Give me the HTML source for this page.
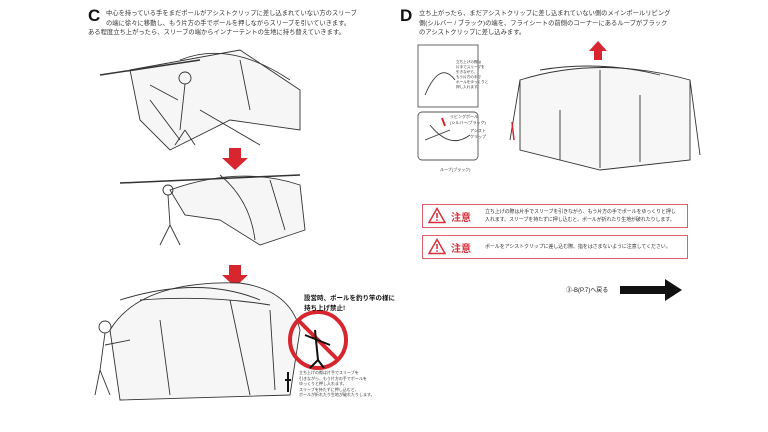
<!DOCTYPE html>
<html><head><meta charset="utf-8"><style>
body{margin:0;width:768px;height:432px;background:#fff;overflow:hidden;position:relative;font-family:"Liberation Sans","Noto Sans CJK JP",sans-serif;color:#333}
.t{position:absolute;font-size:6.3px;line-height:9.5px;white-space:nowrap}
.L{position:absolute;font-weight:900;font-size:17px;font-family:"Liberation Sans",sans-serif;color:#111}
.c{position:absolute;border:1.5px solid #e0606a;background:#fff}
.c svg{position:absolute;left:5px;top:2px}
.c .z{position:absolute;left:28px;font-size:10px;font-weight:bold;color:#d8303a}
.c .m{position:absolute;left:62px;font-size:5px;line-height:8px;white-space:nowrap;letter-spacing:-0.1px}
</style></head><body>
<div class="L" style="left:88px;top:6px">C</div>
<div class="t" style="left:106px;top:9px">中心を持っている手をまだポールがアシストクリップに差し込まれていない方のスリーブ<br>の端に徐々に移動し、もう片方の手でポールを押しながらスリーブを引いていきます。</div>
<div class="t" style="left:88px;top:28px">ある程度立ち上がったら、スリーブの端からインナーテントの生地に持ち替えていきます。</div>
<div class="L" style="left:400px;top:6px">D</div>
<div class="t" style="left:419px;top:9px">立ち上がったら、まだアシストクリップに差し込まれていない側のメインポールリビング<br>側(シルバー / ブラック)の端を、フライシートの前側のコーナーにあるループがブラック<br>のアシストクリップに差し込みます。</div>
<svg width="768" height="432" style="position:absolute;left:0;top:0" fill="none" stroke="#333" stroke-width="0.9">
<path d="M130 70 L240 50 L300 90 L300 130 L230 120 L170 150 L140 120Z" fill="#f6f6f6"/>
<path d="M180 60 Q230 40 290 80 M200 110 L260 145 M150 100 L180 140 M240 60 L250 110"/>
<path d="M100 75 L200 60" stroke-width="1.5"/>
<circle cx="185" cy="78" r="6"/><path d="M185 84 L180 130 M178 100 L150 85 M185 130 L175 145 M185 130 L195 145"/>
<path d="M229 148 h12 v10 h7 l-13 12 l-13 -12 h7z" fill="#d8262f" stroke="none"/>
<path d="M170 190 Q240 165 300 185 L305 230 L260 245 L220 220 L185 215Z" fill="#f6f6f6"/>
<path d="M120 183 L300 175" stroke-width="1.5"/><path d="M220 175 Q250 200 255 240 M270 180 L285 230"/>
<circle cx="168" cy="190" r="5"/><path d="M168 195 L170 225 L160 245 M170 225 L180 245"/>
<path d="M229 265 h12 v10 h7 l-13 12 l-13 -12 h7z" fill="#d8262f" stroke="none"/>
<path d="M110 330 Q140 280 240 283 Q290 290 300 330 L290 395 L120 400Z" fill="#f6f6f6"/>
<path d="M120 300 Q200 275 260 300 M160 320 L170 395 M230 300 L250 395 M270 310 L275 390 M140 300 Q210 295 270 305"/>
<circle cx="105" cy="327" r="6"/><path d="M105 333 L100 370 L95 395 M100 370 L110 395 M105 345 L130 340"/>
<circle cx="318" cy="340" r="28" stroke="#d8262f" stroke-width="4"/>
<path d="M298 320 L338 360" stroke="#d8262f" stroke-width="4"/>
<path d="M305 335 L330 345 M315 330 L318 360 L310 368 M318 360 L324 368" stroke="#111" stroke-width="2"/>
<path d="M288 372 v20 M285 380 h6" stroke="#111" stroke-width="2"/>
<rect x="418" y="45" width="60" height="62" stroke="#555"/>
<rect x="418" y="112" width="60" height="48" rx="4" stroke="#555"/>
<path d="M425 95 Q440 60 455 80 M430 125 Q450 150 470 135 M425 140 L450 130" />
<path d="M442 118 l3 8" stroke="#d8262f" stroke-width="2"/>
<path d="M520 80 Q600 55 690 80 L690 160 L600 170 L520 150Z" fill="#f7f7f7"/>
<path d="M540 70 Q600 60 660 75 M560 110 L560 160 M600 70 L600 168 M640 95 L640 162 M520 80 L510 140 M690 80 L700 155"/>
<path d="M594 60 v-9 h-5 l9 -10 l9 10 h-5 v9z" fill="#d8262f" stroke="none"/>
<path d="M514 140 l-2 -18" stroke="#d8262f" stroke-width="1.5"/>
<path d="M620 286 h45 v-7 l17 11 l-17 11 v-7 h-45z" fill="#111" stroke="none"/>
</svg>
<div class="t" style="left:304px;top:294px;font-size:6.5px;font-weight:bold;color:#111;line-height:10px">設営時、ポールを釣り竿の様に<br>持ち上げ禁止!</div>
<div class="t" style="left:299px;top:370px;font-size:4px;line-height:5.5px">立ち上げの際は片手でスリーブを<br>引きながら、もう片方の手でポールを<br>ゆっくりと押し入れます。<br>スリーブを持たずに押し込むと、<br>ポールが折れたり生地が破れたりします。</div>
<div class="t" style="left:456px;top:60px;font-size:3.6px;line-height:5px">立ち上げの際は<br>片手でスリーブを<br>引きながら、<br>もう片方の手で<br>ポールをゆっくりと<br>押し入れます。</div>
<div class="t" style="left:450px;top:114px;font-size:4px;line-height:5.5px">リビングポール<br>(シルバー/ブラック)</div>
<div class="t" style="left:470px;top:128px;font-size:4px;line-height:5.5px">アシスト<br>クリップ</div>
<div class="t" style="left:440px;top:165px;font-size:4px">ループ(ブラック)</div>
<div class="c" style="left:422px;top:204px;width:264px;height:22px"><svg width="18" height="17"><path d="M9 1.5 L17 15.5 H1Z" fill="none" stroke="#d8303a" stroke-width="1.5"/><path d="M9 6 v5" stroke="#d8303a" stroke-width="1.6"/><circle cx="9" cy="13" r="0.9" fill="#d8303a"/></svg><span class="z" style="top:4px">注意</span><span class="m" style="top:3px">立ち上げの際は片手でスリーブを引きながら、もう片方の手でポールをゆっくりと押し<br>入れます。スリーブを持たずに押し込むと、ポールが折れたり生地が破れたりします。</span></div>
<div class="c" style="left:422px;top:235px;width:264px;height:22px"><svg width="18" height="17"><path d="M9 1.5 L17 15.5 H1Z" fill="none" stroke="#d8303a" stroke-width="1.5"/><path d="M9 6 v5" stroke="#d8303a" stroke-width="1.6"/><circle cx="9" cy="13" r="0.9" fill="#d8303a"/></svg><span class="z" style="top:4px">注意</span><span class="m" style="top:7px">ポールをアシストクリップに差し込む際、指をはさまないように注意してください。</span></div>
<div class="t" style="left:566px;top:287px;font-size:6px;color:#111">③-B(P.7)へ戻る</div>
</body></html>
